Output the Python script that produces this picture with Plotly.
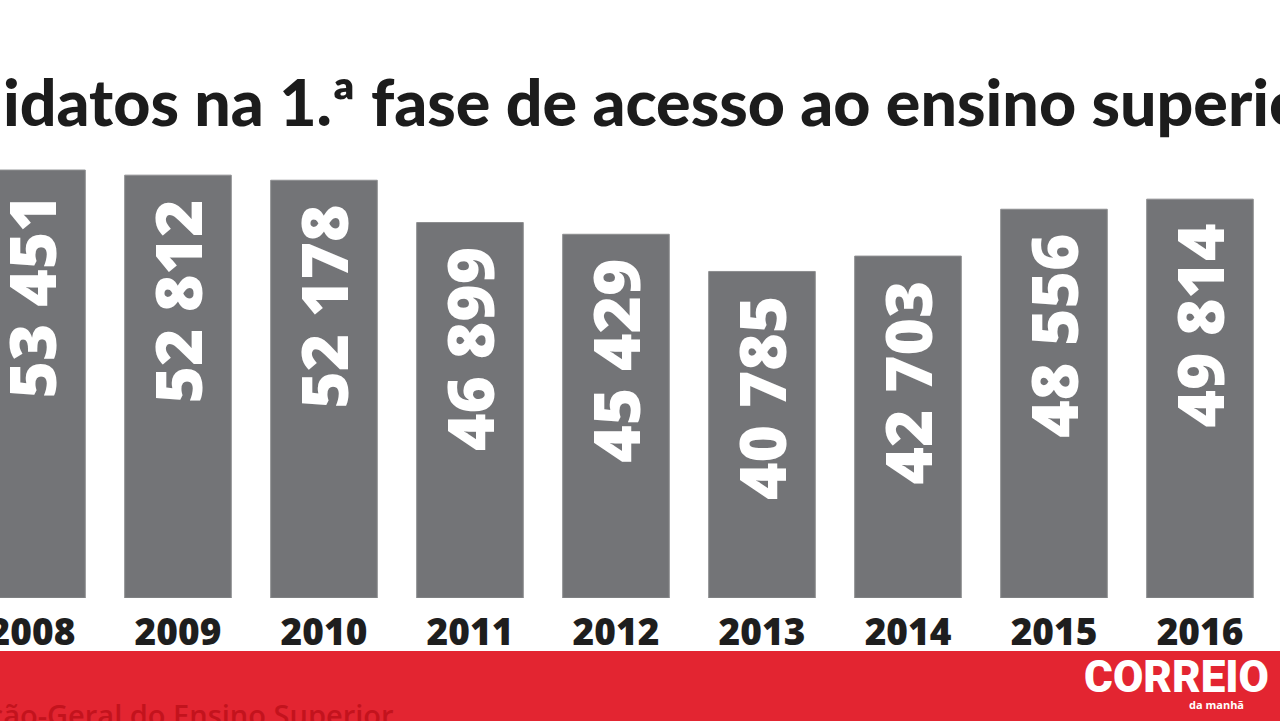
import plotly.graph_objects as go

# candidatos na 1.a fase, por ano
anos = ["2008", "2009", "2010", "2011", "2012", "2013", "2014", "2015", "2016"]
candidatos = [53451, 52812, 52178, 46899, 45429, 40785, 42703, 48556, 49814]

titulo = "Candidatos na 1.ª fase de acesso ao ensino superior"
fonte = "Fonte: Direção-Geral do Ensino Superior"

W, H = 1280, 721
TOP, BASE = 140, 598          # plot area in pixels
PLOT_H = BASE - TOP


def py(p):
    # pixel row -> paper y
    return (BASE - p) / PLOT_H


def px(p):
    return p / W


def fmt(v):
    # "53 451" + a small space so the label sits a bit below the bar top
    return "{:,}".format(v).replace(",", " ") + "\u2004"


fig = go.Figure()
fig.add_trace(go.Bar(
    x=anos, y=candidatos,
    text=[fmt(v) for v in candidatos],
    textposition="inside", insidetextanchor="end", textangle=-90,
    textfont=dict(family="Open Sans", size=64, color="white", weight=800),
    marker=dict(color="#737477", line=dict(color="#8d8e90", width=1)),
    hoverinfo="x+y",
))

# title (cropped at both sides like the original)
fig.add_annotation(
    x=px(-148), y=py(101), xref="paper", yref="paper",
    text=titulo, showarrow=False, xanchor="left", yanchor="middle",
    font=dict(family="Lato", size=64.5, color="#1c1c1c", weight=900),
)

# red footer band
fig.add_shape(type="rect", xref="paper", yref="paper",
              x0=-0.01, x1=1.01, y0=py(651), y1=py(730),
              fillcolor="#e32531", line=dict(width=0), layer="below")

fig.add_annotation(
    x=px(395), y=py(714), xref="paper", yref="paper",
    text=fonte, showarrow=False, xanchor="right", yanchor="middle",
    font=dict(family="Open Sans", size=29, color="#c3131d", weight=600),
)

# logo
fig.add_annotation(
    x=px(1271), y=py(677), xref="paper", yref="paper",
    text="CORREIO", showarrow=False, xanchor="right", yanchor="middle",
    font=dict(family="Roboto", size=44, color="white", weight=900),
)
fig.add_annotation(
    x=px(1246), y=py(704), xref="paper", yref="paper",
    text="da manhã", showarrow=False, xanchor="right", yanchor="middle",
    font=dict(family="Open Sans", size=11, color="white", weight=700),
)

fig.update_layout(
    width=W, height=H,
    margin=dict(l=0, r=0, t=TOP, b=H - BASE),
    paper_bgcolor="white", plot_bgcolor="white",
    bargap=0.27, showlegend=False,
)
fig.update_xaxes(
    type="category", range=[-0.219, 8.548], automargin=False,
    showgrid=False, showline=False, ticks="", zeroline=False,
    ticklabelstandoff=9,
    tickfont=dict(family="Open Sans", size=37, color="#1e1e1e", weight=800),
)
fig.update_yaxes(range=[0, PLOT_H * 124.9], visible=False, showgrid=False,
                 automargin=False)

fig.write_html("out.html", config={"displayModeBar": False},
               post_script="document.body.style.margin='0';")
